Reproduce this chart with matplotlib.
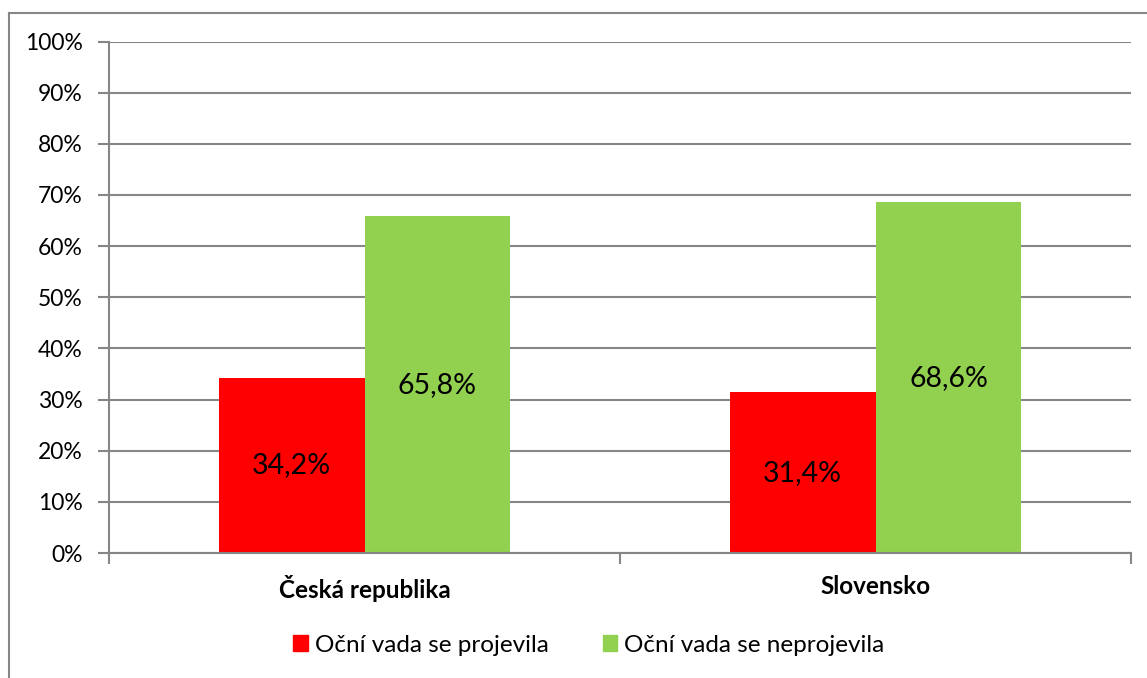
import numpy as np
import matplotlib.pyplot as plt
from matplotlib.lines import Line2D
from matplotlib.patches import Patch

plt.rcParams['font.family'] = ['Lato', 'DejaVu Sans']

countries = ['Česká republika', 'Slovensko']
series_names = ['Oční vada se projevila', 'Oční vada se neprojevila']
projevila = [34.2, 31.4]
neprojevila = [65.8, 68.6]
colors = ['#FF0000', '#92D050']

W, H = 1147, 678
fig = plt.figure(figsize=(W / 100, H / 100), dpi=100)
ax = fig.add_axes([109 / W, 1 - 553 / H, (1131 - 109) / W, (553 - 41.5) / H])

x = np.arange(len(countries))
bw = 0.2857
b1 = ax.bar(x - bw / 2, projevila, bw, color=colors[0], zorder=2)
b2 = ax.bar(x + bw / 2, neprojevila, bw, color=colors[1], zorder=2)

fmt = lambda v: f'{v:.1f}%'.replace('.', ',')
for bars in (b1, b2):
    ax.bar_label(bars, labels=[fmt(b.get_height()) for b in bars],
                 label_type='center', fontsize=20.5, color='black')

ax.set_xlim(-0.5, 1.5)
ax.set_ylim(0, 100)
ax.set_yticks(np.arange(0, 101, 10))
ax.set_yticklabels([f'{v}%' for v in range(0, 101, 10)], fontsize=16.5)
ax.yaxis.grid(True, color='#868686', linewidth=1.5, zorder=0)

ax.set_xticks([-0.5, 0.5, 1.5])
ax.set_xticklabels([])
ax.set_xticks(x, minor=True)
ax.set_xticklabels(countries, minor=True, fontsize=17.5, fontweight='bold')
ax.tick_params(axis='x', which='minor', length=0, pad=16)
ax.tick_params(axis='x', which='major', length=8, width=1.5, color='#868686')
ax.tick_params(axis='y', length=8, width=1.5, color='#868686', pad=11)

for s in ['top', 'right']:
    ax.spines[s].set_visible(False)
for s in ['left', 'bottom']:
    ax.spines[s].set_color('#868686')
    ax.spines[s].set_linewidth(1.5)

# outer chart border
fig.add_artist(Line2D([8.5 / W, 8.5 / W], [0, 1 - 13 / H], color='#868686', linewidth=1.5))
fig.add_artist(Line2D([8.5 / W, 1], [1 - 13 / H, 1 - 13 / H], color='#868686', linewidth=1.5))

handles = [Patch(color=c) for c in colors]
fig.legend(handles, series_names, loc='center', bbox_to_anchor=(589 / W, 1 - 645 / H),
           ncol=2, frameon=False, fontsize=17.5, handlelength=0.6, handleheight=0.6,
           handletextpad=0.3, columnspacing=2.2)

fig.savefig('out.png', dpi=100)
